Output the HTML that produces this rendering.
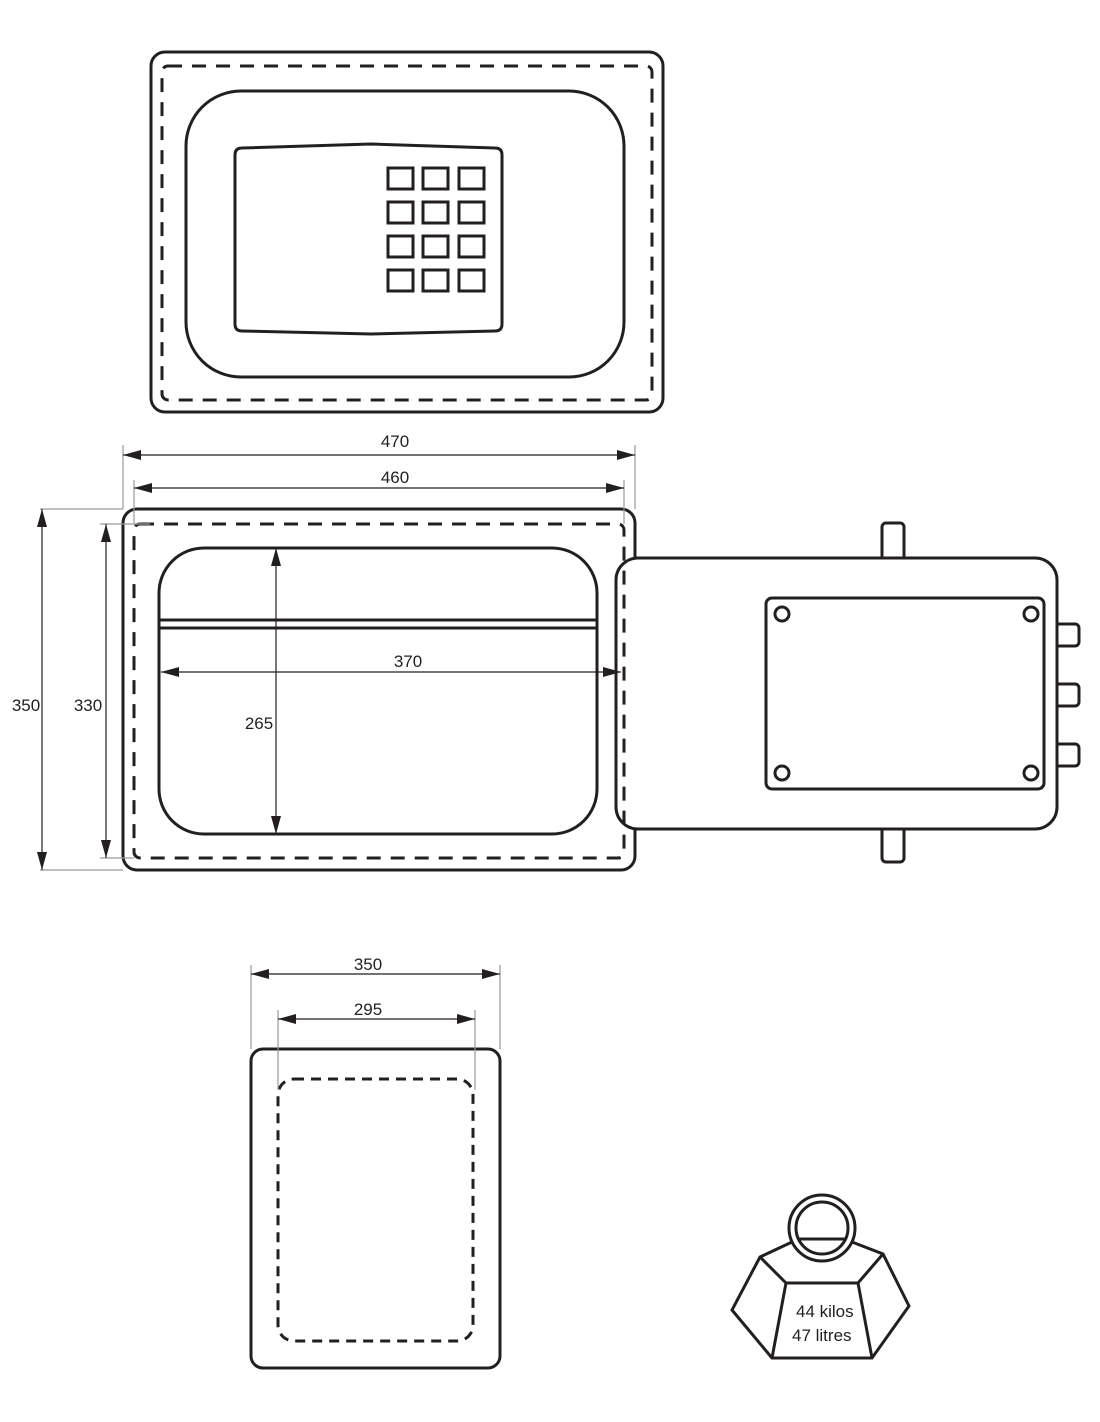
<!DOCTYPE html>
<html><head><meta charset="utf-8"><style>
html,body{margin:0;padding:0;background:#fff;}
svg{display:block;}
text{font-family:"Liberation Sans",sans-serif;fill:#231f20;}
</style></head><body>
<svg width="1100" height="1422" viewBox="0 0 1100 1422" xmlns="http://www.w3.org/2000/svg">
<defs>
<marker id="a" viewBox="0 0 18 10" refX="18" refY="5" markerWidth="18" markerHeight="10" orient="auto-start-reverse" markerUnits="userSpaceOnUse"><path d="M0,0 L18,5 L0,10 Z" fill="#231f20"/></marker>
</defs>
<g fill="none" stroke="#231f20" stroke-width="3">
<rect x="151" y="52" width="512" height="360" rx="14"/>
<rect x="162" y="66" width="490" height="334" rx="6" stroke-dasharray="14,10"/>
<rect x="186" y="91" width="438" height="286" rx="55"/>
<path d="M242,148 L371,144 L495,148 Q502,148 502,155 L502,324 Q502,331 495,331 L371,334 L242,331 Q235,331 235,324 L235,155 Q235,148 242,148 Z"/>
<g stroke-width="3">
<rect x="388" y="168" width="25" height="21"/><rect x="423" y="168" width="25" height="21"/><rect x="459" y="168" width="25" height="21"/>
<rect x="388" y="202" width="25" height="21"/><rect x="423" y="202" width="25" height="21"/><rect x="459" y="202" width="25" height="21"/>
<rect x="388" y="236" width="25" height="21"/><rect x="423" y="236" width="25" height="21"/><rect x="459" y="236" width="25" height="21"/>
<rect x="388" y="270" width="25" height="21"/><rect x="423" y="270" width="25" height="21"/><rect x="459" y="270" width="25" height="21"/>
</g>
<rect x="882" y="523" width="22" height="45" rx="4" fill="#fff"/>
<rect x="882" y="820" width="22" height="42" rx="4" fill="#fff"/>
<rect x="1036" y="624" width="43" height="22" rx="4" fill="#fff"/>
<rect x="1036" y="684" width="43" height="22" rx="4" fill="#fff"/>
<rect x="1036" y="744" width="43" height="22" rx="4" fill="#fff"/>
<rect x="123" y="509" width="512" height="361" rx="14"/>
<rect x="159" y="548" width="438" height="286" rx="45"/>
<line x1="160" y1="620" x2="596" y2="620"/>
<line x1="160" y1="628" x2="596" y2="628"/>
<rect x="616" y="558" width="441" height="271" rx="22" fill="#fff"/>
<rect x="766" y="598" width="278" height="191" rx="6"/>
<circle cx="782" cy="614" r="7"/><circle cx="1031" cy="614" r="7"/>
<circle cx="782" cy="773" r="7"/><circle cx="1031" cy="773" r="7"/>
<rect x="134" y="524" width="490" height="334" rx="6" stroke-dasharray="14,10"/>
<rect x="251" y="1049" width="249" height="319" rx="12"/>
<rect x="278" y="1079" width="195" height="262" rx="16" stroke-dasharray="10,7"/>
<path d="M792,1242 L760,1257 L732,1310 L772,1358 L872,1358 L909,1306 L883,1254 L852,1242"/>
<path d="M760,1257 L786,1283 L858,1283 L883,1254 M786,1283 L772,1358 M858,1283 L872,1358"/>
<circle cx="822" cy="1228" r="33" fill="#fff"/>
<circle cx="822" cy="1228" r="26"/>
<line x1="799" y1="1239" x2="845" y2="1239"/>
</g>
<g stroke="#9a9a9a" stroke-width="1.2" fill="none">
<line x1="123" y1="445" x2="123" y2="509"/><line x1="635" y1="445" x2="635" y2="509"/>
<line x1="134" y1="480" x2="134" y2="524"/><line x1="624" y1="480" x2="624" y2="524"/>
<line x1="40" y1="509" x2="123" y2="509"/><line x1="40" y1="870" x2="123" y2="870"/>
<line x1="100" y1="524" x2="150" y2="524"/><line x1="100" y1="858" x2="134" y2="858"/>
<line x1="251" y1="965" x2="251" y2="1049"/><line x1="500" y1="965" x2="500" y2="1049"/>
<line x1="278" y1="1010" x2="278" y2="1090"/><line x1="475" y1="1010" x2="475" y2="1090"/>
</g>
<g stroke="#231f20" stroke-width="1.2" fill="none" marker-start="url(#a)" marker-end="url(#a)">
<line x1="123" y1="455" x2="635" y2="455"/>
<line x1="134" y1="488" x2="624" y2="488"/>
<line x1="42" y1="509" x2="42" y2="870"/>
<line x1="106" y1="524" x2="106" y2="858"/>
<line x1="276" y1="548" x2="276" y2="834"/>
<line x1="161" y1="672" x2="621" y2="672"/>
<line x1="251" y1="974" x2="500" y2="974"/>
<line x1="278" y1="1019" x2="475" y2="1019"/>
</g>
<g font-size="17" text-anchor="middle">
<text x="395" y="447">470</text>
<text x="395" y="483">460</text>
<text x="26" y="711">350</text>
<text x="88" y="711">330</text>
<text x="259" y="729">265</text>
<text x="408" y="667">370</text>
<text x="368" y="970">350</text>
<text x="368" y="1015">295</text>
</g>
<g font-size="17">
<text x="796" y="1317">44 kilos</text>
<text x="792" y="1341">47  litres</text>
</g>
</svg>
</body></html>
